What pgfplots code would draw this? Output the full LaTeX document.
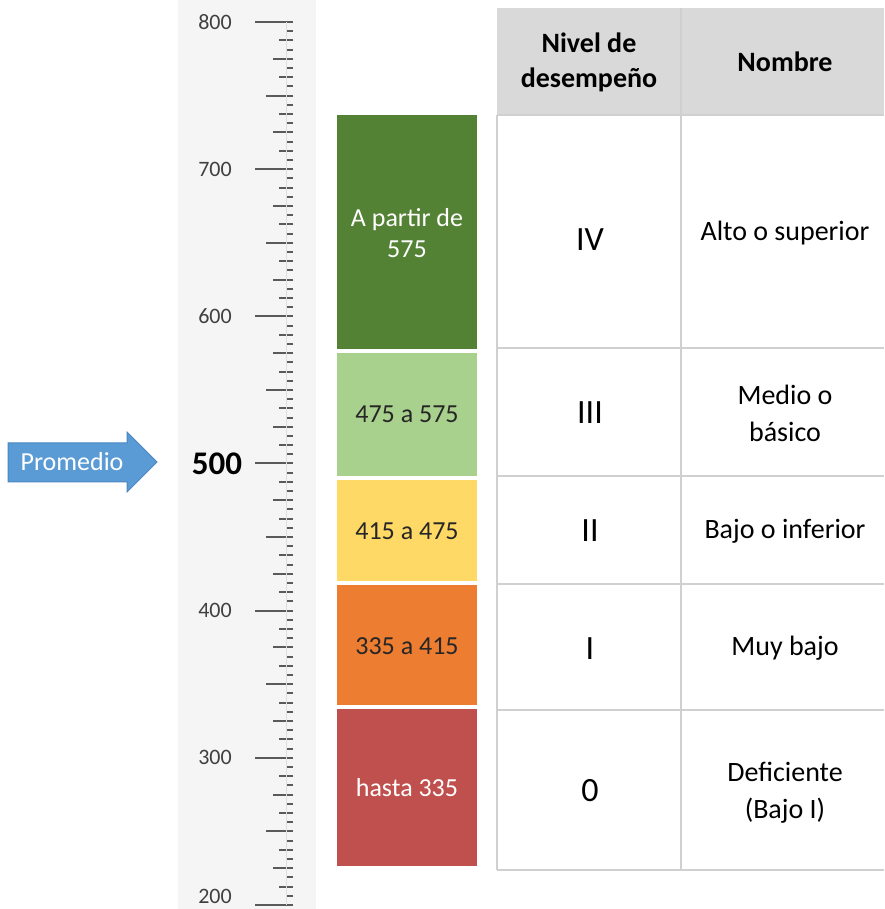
\documentclass[border=0pt]{standalone}
\usepackage{pgfplots}
\pgfplotsset{compat=1.18}
\usepackage{fontspec}
\setmainfont{Carlito}
\definecolor{dkgreen}{HTML}{548235}
\definecolor{ltgreen}{HTML}{A9D18E}
\definecolor{ylw}{HTML}{FFD966}
\definecolor{org}{HTML}{ED7D31}
\definecolor{rd}{HTML}{C0504D}
\definecolor{arrowblue}{HTML}{5B9BD5}
\definecolor{arrowedge}{HTML}{4A86C0}
\definecolor{hdrgray}{HTML}{D9D9D9}
\definecolor{linegray}{HTML}{D0D0D0}
\definecolor{tickgray}{HTML}{5A5A5A}
\definecolor{labgray}{HTML}{404040}
\definecolor{band}{HTML}{F5F5F5}
\newcommand{\fs}[1]{\fontsize{#1}{#1}\selectfont}
\tikzset{px/.style={shift={(0pt,452.5pt)},x=0.5pt,y=-0.5pt}}
\begin{document}
\begin{tikzpicture}
\begin{scope}[px]
\fill[band] (178,0) rectangle (316,909);
\end{scope}
% ruler: 100, 50, 6.25 ticks
\begin{axis}[at={(127.5pt,0pt)}, anchor=south west, scale only axis,
  width=19pt, height=441.5pt, xmin=0, xmax=1, ymin=200, ymax=800,
  hide x axis, y axis line style={draw=none}, ytick pos=right, tick align=inside,
  ytick={200,300,...,800}, minor y tick num=15,
  major tick length=19pt, minor tick length=3.5pt,
  extra y ticks={250,350,...,750}, extra y tick labels={},
  extra y tick style={major tick length=13.5pt},
  yticklabels={},
  major tick style={tickgray, line width=1pt},
  minor tick style={tickgray, line width=1pt}]
\end{axis}
% ruler: 25, 12.5 ticks
\begin{axis}[at={(127.5pt,0pt)}, anchor=south west, scale only axis,
  width=19pt, height=441.5pt, xmin=0, xmax=1, ymin=200, ymax=800,
  hide x axis, y axis line style={draw=none}, ytick pos=right, tick align=inside,
  ytick={225,275,...,775}, minor ytick={212.5,237.5,...,787.5},
  major tick length=10pt, minor tick length=7pt,
  yticklabels={},
  major tick style={tickgray, line width=1pt},
  minor tick style={tickgray, line width=1pt}]
\end{axis}
\begin{axis}[at={(0pt,0pt)}, anchor=south west, scale only axis,
  width=442pt, height=441.5pt, xmin=0, xmax=884, ymin=200, ymax=800,
  axis lines=none, clip=false]
\draw[linegray!70, line width=0.35pt] (axis cs:286,200) -- (axis cs:286,800);
\addplot[draw=none, fill=dkgreen] coordinates {(337,577.5) (477,577.5) (477,737) (337,737)} -- cycle;
\addplot[draw=none, fill=ltgreen] coordinates {(337,491.5) (477,491.5) (477,575) (337,575)} -- cycle;
\addplot[draw=none, fill=ylw] coordinates {(337,420.2) (477,420.2) (477,488.8) (337,488.8)} -- cycle;
\addplot[draw=none, fill=org] coordinates {(337,335.9) (477,335.9) (477,417.6) (337,417.6)} -- cycle;
\addplot[draw=none, fill=rd] coordinates {(337,226.5) (477,226.5) (477,333.2) (337,333.2)} -- cycle;
\node[text=labgray, font=\fs{11}] at (axis cs:215,800) {800};
\node[text=labgray, font=\fs{11}] at (axis cs:215,700) {700};
\node[text=labgray, font=\fs{11}] at (axis cs:215,600) {600};
\node[text=labgray, font=\fs{11}] at (axis cs:215,400) {400};
\node[text=labgray, font=\fs{11}] at (axis cs:215,300) {300};
\node[text=labgray, font=\fs{11}] at (axis cs:215,205.6) {200};
\node[text=black, font=\fs{16.5}\bfseries] at (axis cs:217,500) {500};
\end{axis}
\begin{scope}[px]
% arrow
\draw[arrowedge, fill=arrowblue, line width=0.5pt] (8,443) -- (127,443) -- (127,432) -- (157,462) -- (127,492) -- (127,482) -- (8,482) -- cycle;
\node[text=white, font=\fs{13}] at (72,462) {Promedio};
% bar labels
\node[text=white, font=\fs{13}, align=center, execute at begin node=\setlength{\baselineskip}{15.5pt}] at (407,233) {A partir de\\575};
\node[text=black!85, font=\fs{13}] at (407,414) {475 a 575};
\node[text=black!85, font=\fs{13}] at (407,531) {415 a 475};
\node[text=black!85, font=\fs{13}] at (407,646) {335 a 415};
\node[text=white, font=\fs{13}] at (407,788) {hasta 335};
% table
\fill[hdrgray] (497,8) rectangle (884,115);
\draw[linegray, line width=0.75pt] (497,115) -- (497,870);
\draw[linegray, line width=0.75pt] (681,8) -- (681,870);
\foreach \yy in {115,348,476,584,710,870}{
  \draw[linegray, line width=0.75pt] (497,\yy) -- (884,\yy);
}
\node[font=\fs{14}\bfseries, align=center, execute at begin node=\setlength{\baselineskip}{17.5pt}] at (589,62) {Nivel de\\desempeño};
\node[font=\fs{14}\bfseries] at (785,62) {Nombre};
\node[font=\fs{17}] at (590,240) {IV};
\node[font=\fs{17}] at (590,413) {III};
\node[font=\fs{17}] at (590,531) {II};
\node[font=\fs{17}] at (590,649) {I};
\node[font=\fs{17}] at (590,791) {0};
\node[font=\fs{14}] at (785,233) {Alto o superior};
\node[font=\fs{14}, align=center, execute at begin node=\setlength{\baselineskip}{18.5pt}] at (785,413) {Medio o\\básico};
\node[font=\fs{14}] at (785,531) {Bajo o inferior};
\node[font=\fs{14}] at (785,648) {Muy bajo};
\node[font=\fs{14}, align=center, execute at begin node=\setlength{\baselineskip}{18.5pt}] at (785,793) {Deficiente\\(Bajo I)};
\end{scope}
\pgfresetboundingbox
\begin{scope}[px]
\path[use as bounding box] (0,0) rectangle (884,909);
\end{scope}
\end{tikzpicture}
\end{document}
